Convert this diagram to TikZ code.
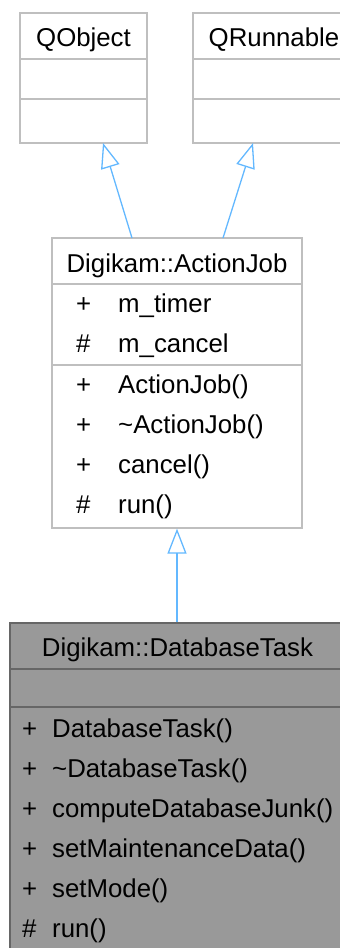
\documentclass[tikz,border=0pt]{standalone}
\usepackage{fontspec}
\setmainfont{Liberation Sans}
\usetikzlibrary{arrows.meta}
\definecolor{bordergray}{HTML}{BFBFBF}
\definecolor{darkborder}{HTML}{666666}
\definecolor{taskfill}{HTML}{999999}
\definecolor{arrowblue}{HTML}{63B8FF}
\tikzset{
  box/.style={draw=bordergray, line width=1.3pt, fill=white, inner sep=0pt, rectangle},
  taskbox/.style={draw=darkborder, line width=1.3pt, fill=taskfill, inner sep=0pt, rectangle},
  lbl/.style={inner sep=0pt, anchor=base, font=\fontsize{25.8}{30}\selectfont},
  lblw/.style={inner sep=0pt, anchor=base west, font=\fontsize{25.8}{30}\selectfont},
  divider/.style={draw=bordergray, line width=1.3pt},
  darkdivider/.style={draw=darkborder, line width=1.3pt},
  inherit/.style={draw=arrowblue, line width=1.3pt, -{Triangle[open, length=25pt, width=19pt]}}
}
\begin{document}
\begin{tikzpicture}[x=1pt, y=-1pt]
\useasboundingbox (0,0) rectangle (340,948);
\clip (0,0) rectangle (340,948);

% QObject
\node[box, minimum width=127pt, minimum height=130pt] (qobject) at (83.5,78) {};
\node[lbl] (qobjectT) at (83.5,46) {QObject};
\draw[divider] (qobject.west |- 0,59) -- (qobject.east |- 0,59);
\draw[divider] (qobject.west |- 0,99) -- (qobject.east |- 0,99);

% QRunnable
\node[box, minimum width=162pt, minimum height=130pt] (qrunnable) at (274,78) {};
\node[lbl] (qrunnableT) at (274,46) {QRunnable};
\draw[divider] (qrunnable.west |- 0,59) -- (qrunnable.east |- 0,59);
\draw[divider] (qrunnable.west |- 0,99) -- (qrunnable.east |- 0,99);

% ActionJob
\node[box, minimum width=250pt, minimum height=290pt] (actionjob) at (177,383) {};
\node[lbl] (ajT) at (177,272) {Digikam::ActionJob};
\draw[divider] (actionjob.west |- 0,284) -- (actionjob.east |- 0,284);
\draw[divider] (actionjob.west |- 0,365) -- (actionjob.east |- 0,365);
\node[lblw] (aj1v) at (76,312) {+};
\node[lblw] (aj1) at (118,312) {m\_timer};
\node[lblw] (aj2v) at (76,352) {\#};
\node[lblw] (aj2) at (118,352) {m\_cancel};
\node[lblw] (aj3v) at (76,393) {+};
\node[lblw] (aj3) at (118,393) {ActionJob()};
\node[lblw] (aj4v) at (76,433) {+};
\node[lblw] (aj4) at (118,433) {\textasciitilde ActionJob()};
\node[lblw] (aj5v) at (76,473) {+};
\node[lblw] (aj5) at (118,473) {cancel()};
\node[lblw] (aj6v) at (76,513) {\#};
\node[lblw] (aj6) at (118,513) {run()};

% DatabaseTask
\node[taskbox, minimum width=335pt, minimum height=340pt] (dbtask) at (177.5,793) {};
\node[lbl] (dtT) at (177.5,656) {Digikam::DatabaseTask};
\draw[darkdivider] (dbtask.west |- 0,669) -- (dbtask.east |- 0,669);
\draw[darkdivider] (dbtask.west |- 0,707) -- (dbtask.east |- 0,707);
\node[lblw] (dt1v) at (22,737) {+};
\node[lblw] (dt1) at (52,737) {DatabaseTask()};
\node[lblw] (dt2v) at (22,777) {+};
\node[lblw] (dt2) at (52,777) {\textasciitilde DatabaseTask()};
\node[lblw] (dt3v) at (22,817) {+};
\node[lblw] (dt3) at (52,817) {computeDatabaseJunk()};
\node[lblw] (dt4v) at (22,857) {+};
\node[lblw] (dt4) at (52,857) {setMaintenanceData()};
\node[lblw] (dt5v) at (22,897) {+};
\node[lblw] (dt5) at (52,897) {setMode()};
\node[lblw] (dt6v) at (22,937) {\#};
\node[lblw] (dt6) at (52,937) {run()};

% inheritance connectors
\coordinate (qoTip) at (103,143);
\coordinate (ajFromQo) at (132,238);
\coordinate (qrTip) at (253,143);
\coordinate (ajFromQr) at (223,238);
\draw[inherit] (ajFromQo) -- (qoTip);
\draw[inherit] (ajFromQr) -- (qrTip);
\draw[inherit] (dbtask.north -| 177,0) -- (actionjob.south -| 177,0);
\end{tikzpicture}
\end{document}
